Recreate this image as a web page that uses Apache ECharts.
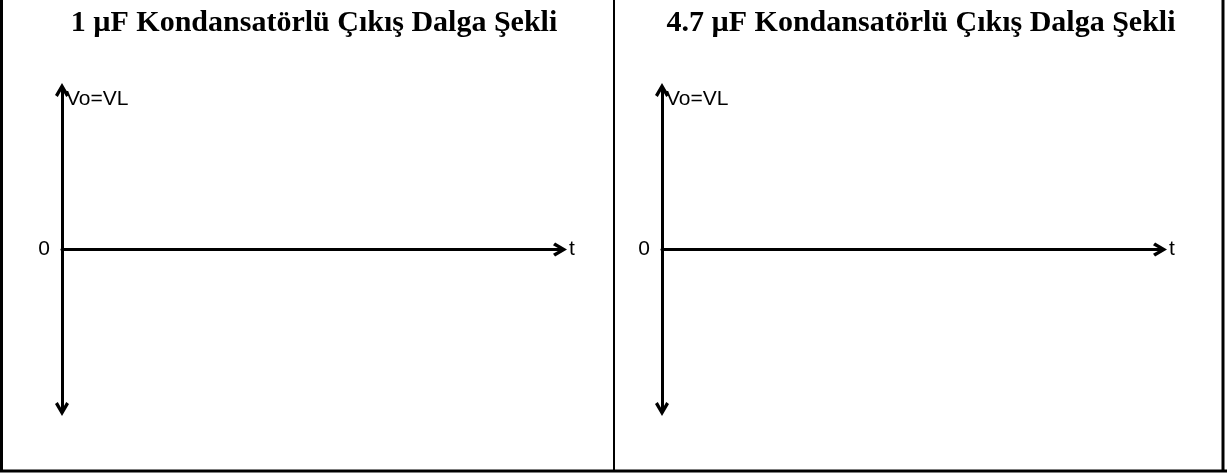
<!DOCTYPE html>
<html>
<head>
<meta charset="utf-8">
<script src="https://cdn.jsdelivr.net/npm/echarts@6/dist/echarts.min.js"></script>
<style>
  html, body { margin: 0; padding: 0; background: #fff; }
  #chart { width: 1227px; height: 474px; }
</style>
</head>
<body>
<div id="chart"></div>
<script>
// iki hücre: başlıklar ve eksen metinleri
const panelTitles = ['1 µF Kondansatörlü Çıkış Dalga Şekli', '4.7 µF Kondansatörlü Çıkış Dalga Şekli']
const yAxisName = 'Vo=VL'
const xAxisName = 't'
const yRange = [-1, 1]
const xRange = [0, 1]
const zeroLabel = [0]

// açık ok ucu (chevron)
const chevron = 'path://M0,8.5 L5,0 L10,8.5 L8,10 L5,4.6 L2,10 Z'

const cellCenters = [309, 916]
const gridLefts = [62, 662]

const chartDom = document.getElementById('chart')
const chart = echarts.init(chartDom)

let option = {
  animation: false,
  backgroundColor: '#fff',
  title: panelTitles.map((t, i) => ({
    text: t,
    left: cellCenters[i],
    top: 3,
    textAlign: 'center',
    textStyle: {
      fontFamily: 'Liberation Serif',
      fontWeight: 'bold',
      fontSize: 30,
      color: '#000'
    }
  })),
  grid: gridLefts.map(l => ({
    left: l,
    top: 90,
    width: 498,
    height: 319,
    containLabel: false
  })),
  xAxis: gridLefts.map((l, i) => ({
    type: 'value',
    gridIndex: i,
    min: xRange[0],
    max: xRange[1],
    name: xAxisName,
    nameLocation: 'end',
    nameGap: 9,
    nameTextStyle: { fontFamily: 'Liberation Sans', fontSize: 21, color: '#000' },
    axisLine: {
      onZero: true,
      symbol: ['none', chevron],
      symbolSize: [15, 14],
      lineStyle: { color: '#000', width: 3 }
    },
    axisTick: { show: false },
    axisLabel: { show: false },
    splitLine: { show: false }
  })),
  yAxis: gridLefts.map((l, i) => ({
    type: 'value',
    gridIndex: i,
    min: yRange[0],
    max: yRange[1],
    interval: 1,
    name: yAxisName,
    nameLocation: 'end',
    nameGap: -9,
    nameTextStyle: {
      fontFamily: 'Liberation Sans', fontSize: 21, color: '#000',
      align: 'left', verticalAlign: 'middle', padding: [0, 0, 0, 4]
    },
    axisLine: {
      onZero: false,
      symbol: [chevron, chevron],
      symbolSize: [15, 14],
      lineStyle: { color: '#000', width: 3 }
    },
    axisTick: { show: false },
    axisLabel: {
      margin: 12,
      fontFamily: 'Liberation Sans', fontSize: 21, color: '#000',
      formatter: v => (zeroLabel.includes(v) ? String(v) : '')
    },
    splitLine: { show: false }
  })),
  graphic: [
    // tablo çerçevesi
    { type: 'line', shape: { x1: 1.5, y1: 0, x2: 1.5, y2: 472 }, style: { stroke: '#000', lineWidth: 3 } },
    { type: 'line', shape: { x1: 614, y1: 0, x2: 614, y2: 472 }, style: { stroke: '#000', lineWidth: 2 } },
    { type: 'line', shape: { x1: 1223, y1: 0, x2: 1223, y2: 472 }, style: { stroke: '#000', lineWidth: 3 } },
    { type: 'line', shape: { x1: 0, y1: 471, x2: 1227, y2: 471 }, style: { stroke: '#000', lineWidth: 3 } }
  ],
  series: []
}

chart.setOption(option)
</script>
</body>
</html>
